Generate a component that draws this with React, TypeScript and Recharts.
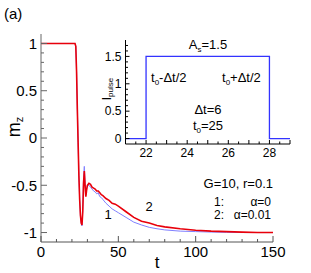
import { LineChart, Line, XAxis, YAxis } from 'recharts'

// main panel: m_z(t) for two damping values
const tValues = [0, 10, 20, 22, 22.5, 23, 23.5, 24, 24.5, 25, 25.5, 26, 26.5, 27, 27.5, 28, 28.5, 29, 29.5, 30, 31, 32, 33, 34, 35, 36, 37, 38, 39, 40, 42, 44, 46, 48, 50, 55, 60, 65, 70, 75, 80, 90, 100, 110, 120, 130, 140, 150]
const mzAlpha0 = [1, 1, 1, 1, 0.97, 0.7, 0.3, -0.05, -0.4, -0.65, -0.82, -0.9, -0.93, -0.75, -0.42, -0.3, -0.48, -0.6, -0.53, -0.5, -0.5, -0.52, -0.54, -0.56, -0.57, -0.59, -0.58, -0.62, -0.63, -0.65, -0.69, -0.72, -0.75, -0.77, -0.79, -0.84, -0.89, -0.92, -0.945, -0.96, -0.972, -0.985, -0.99, -0.995, -0.998, -1, -1, -1]
const mzAlpha001 = [1, 1, 1, 1, 0.97, 0.7, 0.3, -0.05, -0.4, -0.65, -0.82, -0.9, -0.92, -0.78, -0.48, -0.35, -0.5, -0.62, -0.55, -0.5, -0.48, -0.49, -0.52, -0.53, -0.54, -0.56, -0.56, -0.58, -0.6, -0.61, -0.64, -0.66, -0.69, -0.7, -0.72, -0.78, -0.84, -0.88, -0.9, -0.925, -0.94, -0.96, -0.975, -0.985, -0.99, -0.996, -0.999, -1]

// inset: current pulse
const pulseT = [21, 22, 22, 28, 28, 29]
const pulseI = [0, 0, 1.5, 1.5, 0, 0]

const mainXTicks = [0, 10, 20, 30, 40, 50, 60, 70, 80, 90, 100, 110, 120, 130, 140, 150]
const mainYTicks = [-1, -0.9, -0.8, -0.7, -0.6, -0.5, -0.4, -0.3, -0.2, -0.1, 0, 0.1, 0.2, 0.3, 0.4, 0.5, 0.6, 0.7, 0.8, 0.9, 1]
const insetXTicks = [21, 21.5, 22, 22.5, 23, 23.5, 24, 24.5, 25, 25.5, 26, 26.5, 27, 27.5, 28, 28.5, 29]
const insetYTicks = [0, 0.1, 0.2, 0.3, 0.4, 0.5, 0.6, 0.7, 0.8, 0.9, 1, 1.1, 1.2, 1.3, 1.4, 1.5, 1.6, 1.7]

const series1 = tValues.map((t, i) => ({ t, mz: mzAlpha0[i] }))
const series2 = tValues.map((t, i) => ({ t, mz: mzAlpha001[i] }))
const pulse = pulseT.map((t, i) => ({ t, I: pulseI[i] }))

const FONT = 'Liberation Sans, Arial, sans-serif'
const near = (v: number, step: number) => Math.abs(v / step - Math.round(v / step)) < 1e-6

const fmt = (v: number) => String(Math.round(v * 100) / 100)

function makeYTick(majorStep: number, color: string, fontSize: number, major: number, minor: number) {
    return (props: any) => {
        const { x, y, payload } = props
        const v = payload.value
        const isMajor = near(v, majorStep)
        const ax = x + 3
        return (
            <g>
                <line x1={ax} x2={ax + (isMajor ? major : minor)} y1={y} y2={y} stroke={color} />
                {isMajor && (
                    <text x={x - 1} y={y} dy={fontSize * 0.36} textAnchor="end" fontSize={fontSize} fontFamily={FONT} fill="#000">
                        {fmt(v)}
                    </text>
                )}
            </g>
        )
    }
}

function makeXTick(majorStep: number, labelStep: number, color: string, fontSize: number, major: number, minor: number) {
    return (props: any) => {
        const { x, y, payload } = props
        const v = payload.value
        const isMajor = near(v, majorStep)
        const ay = y - 3
        return (
            <g>
                <line x1={x} x2={x} y1={ay} y2={ay - (isMajor ? major : minor)} stroke={color} />
                {near(v, labelStep) && (
                    <text x={x} y={y} dy={fontSize * 0.8} textAnchor="middle" fontSize={fontSize} fontFamily={FONT} fill="#000">
                        {fmt(v)}
                    </text>
                )}
            </g>
        )
    }
}

export default function App() {
    return (
        <div style={{ position: 'fixed', left: 0, top: 0, width: 311, height: 273, background: '#fff' }}>
            <div style={{ position: 'absolute', left: 0, top: 0 }}>
                <LineChart width={311} height={273} margin={{ top: 34, right: 38, left: 0, bottom: 0 }}>
                    <XAxis
                        type="number"
                        dataKey="t"
                        domain={[0, 150]}
                        ticks={mainXTicks}
                        interval={0}
                        height={31}
                        tickSize={0}
                        tickMargin={3}
                        tickLine={false}
                        stroke="#555"
                        tick={makeXTick(50, 50, '#555', 15, 6, 3)}
                        allowDataOverflow
                    />
                    <YAxis
                        type="number"
                        domain={[-1.1, 1.1]}
                        ticks={mainYTicks}
                        interval={0}
                        width={41}
                        tickSize={0}
                        tickMargin={3}
                        tickLine={false}
                        stroke="#666"
                        tick={makeYTick(0.5, '#666', 15, 6, 3)}
                        allowDataOverflow
                    />
                    <Line data={series1} dataKey="mz" type="linear" stroke="#8080ff" strokeWidth={1} dot={false} isAnimationActive={false} />
                    <Line data={series2} dataKey="mz" type="linear" stroke="#e8000b" strokeWidth={1.6} dot={false} isAnimationActive={false} />
                </LineChart>
            </div>
            <div style={{ position: 'absolute', left: 90, top: 30 }}>
                <LineChart width={210} height={135} data={pulse} margin={{ top: 10, right: 10, left: 0, bottom: 0 }}>
                    <XAxis
                        type="number"
                        dataKey="t"
                        domain={[21, 29]}
                        ticks={insetXTicks}
                        interval={0}
                        height={21}
                        tickSize={0}
                        tickMargin={3}
                        tickLine={false}
                        stroke="#000"
                        tick={makeXTick(1, 2, '#000', 12, 4, 2.5)}
                    />
                    <YAxis
                        type="number"
                        domain={[-0.1, 1.8]}
                        ticks={insetYTicks}
                        interval={0}
                        width={35.5}
                        tickSize={0}
                        tickMargin={3}
                        tickLine={false}
                        stroke="#000"
                        tick={makeYTick(0.5, '#000', 12, 4, 2.5)}
                    />
                    <Line dataKey="I" type="linear" stroke="#3333ff" strokeWidth={1.3} dot={false} isAnimationActive={false} />
                </LineChart>
            </div>
            <svg width={311} height={273} style={{ position: 'absolute', left: 0, top: 0, pointerEvents: 'none' }} fontFamily={FONT}>
                <text x={4} y={19} fontSize={15}>(a)</text>
                <text transform="translate(20,127) rotate(-90)" textAnchor="middle" fontSize={18}>
                    m<tspan fontSize={11} dy={3}>z</tspan>
                </text>
                <text x={157} y={268} textAnchor="middle" fontSize={17}>t</text>
                <text transform="translate(111,89) rotate(-90)" textAnchor="middle" fontSize={12}>
                    I<tspan fontSize={8} dy={2}>pulse</tspan>
                </text>
                <text x={208} y={49} textAnchor="middle" fontSize={13}>
                    A<tspan fontSize={8} dy={3}>s</tspan><tspan dy={-3}>=1.5</tspan>
                </text>
                <text x={151} y={82} fontSize={13}>
                    t<tspan fontSize={8} dy={3}>0</tspan><tspan dy={-3}>-Δt/2</tspan>
                </text>
                <text x={222} y={82} fontSize={13}>
                    t<tspan fontSize={8} dy={3}>0</tspan><tspan dy={-3}>+Δt/2</tspan>
                </text>
                <text x={208} y={114} textAnchor="middle" fontSize={13}>Δt=6</text>
                <text x={208} y={130} textAnchor="middle" fontSize={13}>
                    t<tspan fontSize={8} dy={3}>0</tspan><tspan dy={-3}>=25</tspan>
                </text>
                <text x={273} y={188} textAnchor="end" fontSize={13}>G=10, r=0.1</text>
                <text x={214} y={206} fontSize={12}>1:</text>
                <text x={271} y={206} textAnchor="end" fontSize={12}>α=0</text>
                <text x={214} y={219} fontSize={12}>2:</text>
                <text x={271} y={219} textAnchor="end" fontSize={12}>α=0.01</text>
                <text x={108} y={219} textAnchor="middle" fontSize={13}>1</text>
                <text x={149} y={211} textAnchor="middle" fontSize={13}>2</text>
            </svg>
        </div>
    )
}
